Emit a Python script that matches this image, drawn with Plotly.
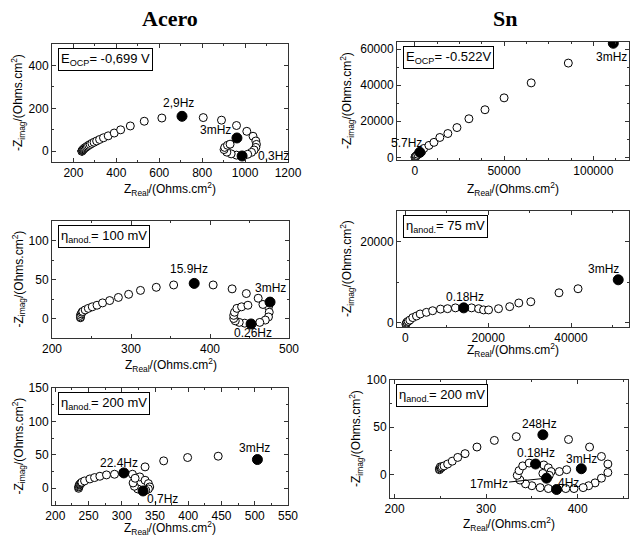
import plotly.graph_objects as go

W, H = 630, 536
FONT = "Arial, Liberation Sans, sans-serif"

# ---------------- data ----------------
# Panel 1: Acero, E_OCP
p1_x = [239, 240, 240, 241, 242, 243, 245, 248, 251, 255, 260, 265, 271, 278, 286, 296, 308, 322, 340, 362, 390, 420, 465, 530, 612,
        805, 890, 960, 1008, 1037, 1050, 1053, 1050, 1042, 1030, 1012,
        960, 935, 915, 902, 905, 918, 930]
p1_y = [0, 1, 2, 3, 4, 6, 8, 11, 14, 17, 20, 24, 28, 32, 37, 42, 48, 55, 63, 72, 85, 100, 118, 140, 155,
        157, 145, 120, 93, 70, 48, 32, 18, 6, -5, -14,
        -18, -12, -4, 8, 18, 28, 33]
p1_fx = [706, 962, 986]
p1_fy = [163, 62, -22]
p1_lab = ["2,9Hz", "3mHz", "0,3Hz"]

# Panel 2: Sn, E_OCP
p2_x = [100, 200, 300, 400, 700, 1000, 1700, 3900, 5000, 7900, 10700, 14000, 18500, 23600, 30300, 39300, 50000, 65200, 86000]
p2_y = [50, 150, 250, 350, 650, 1000, 1650, 3300, 4900, 6600, 8300, 11000, 13200, 16500, 21400, 26400, 33000, 41300, 52300]
p2_fx = [2800, 111200]
p2_fy = [2750, 63300]
p2_lab = ["5.7Hz", "3mHz"]

# Panel 3: Acero, 100 mV
p3_x = [236, 236, 236, 237, 238, 239, 242, 246, 251, 257, 264, 273, 284, 297, 312, 332, 354,
        404, 428, 446,
        474, 475, 474, 470, 463, 444, 437, 432, 430, 430, 431, 434, 440, 448, 461, 467]
p3_y = [1, 2, 4, 6, 8, 9, 11, 13, 15, 17, 20, 23, 27, 31, 36, 40, 43,
        43, 38, 32,
        15, 8, 2, -2, -5, -6, -5, -3, 0, 4, 8, 13, 15, 17, 26, 18]
p3_fx = [380, 476, 452]
p3_fy = [45, 21, -7]
p3_lab = ["15.9Hz", "3mHz", "0.26Hz"]

# Panel 4: Sn, 75 mV
p4_x = [150, 250, 400, 700, 1100, 1800, 2700, 3600, 5100, 6600, 8500, 10200, 12100,
        16000, 17700, 18900, 20100, 22500, 25200, 27400, 30300, 37100, 41700]
p4_y = [-300, -100, 200, 400, 700, 1300, 1700, 2200, 2600, 3000, 3400, 3500, 3700,
        3700, 3500, 3200, 3200, 3500, 4000, 4900, 5200, 7400, 8400]
p4_fx = [14100, 51400]
p4_fy = [3700, 10600]
p4_lab = ["0.18Hz", "3mHz"]

# Panel 5: Acero, 200 mV
p5_x = [235, 235, 236, 236, 237, 238, 239, 240, 244, 252, 259, 267, 277, 289,
        316, 327, 335, 340, 342, 340, 336, 324, 319, 317, 320, 335, 363, 399, 445]
p5_y = [0, 2, 3, 5, 6, 7, 8, 9, 11, 14, 16, 18, 20, 21,
        21, 17, 12, 7, 2, -1, -3, -1, 3, 8, 15, 32, 41, 46, 48]
p5_fx = [303, 504, 332]
p5_fy = [23, 43, -4]
p5_lab = ["22.4Hz", "3mHz", "0,7Hz"]

# Panel 6: Sn, 200 mV
p6_x = [249, 249, 250, 250, 251, 252, 254, 258, 263, 269, 277, 290, 309, 333,
        390, 413, 426, 433, 433, 426, 419, 412, 406, 396, 387,
        368, 359, 350, 343, 337, 334, 336, 340, 347,
        363, 368, 371, 369, 362, 380, 388]
p6_y = [5, 6, 7, 8, 7, 8, 9, 11, 14, 18, 22, 29, 36, 40,
        37, 29, 19, 11, 2, -4, -9, -12, -14, -15, -15,
        -15, -14, -12, -10, -6, -1, 4, 9, 12,
        10, 7, 3, -1, 1, 3, 5]
p6_fx = [362, 354, 404, 377, 366]
p6_fy = [42, 11, 6, -16, -4]
p6_lab = ["248Hz", "0.18Hz", "3mHz", "4Hz", "17mHz"]

# ---------------- layout geometry (pixels) ----------------
# (left, right, top, bottom)
boxes = [
    (52, 288, 44, 162),
    (397, 629, 42, 160),
    (52, 289, 221, 338),
    (397, 629, 211, 327),
    (52, 288, 388, 505),
    (390, 628, 380, 498),
]
xr = [[100, 1200], [-10000, 120000], [200, 500], [-2000, 54000], [195, 550], [195, 455]]
yr = [[-50, 500], [-1500, 64000], [-25, 125], [-1000, 27500], [-25, 150], [-25, 100]]
xt = [[200, 400, 600, 800, 1000, 1200], [0, 50000, 100000], [200, 300, 400, 500],
      [0, 20000, 40000], [200, 250, 300, 350, 400, 450, 500, 550], [200, 300, 400]]
yt = [[0, 200, 400], [0, 20000, 40000, 60000], [0, 50, 100], [0, 20000], [0, 50, 100, 150], [0, 50, 100]]
xminor = [100, 12500, 50, 10000, 25, 50]
yminor = [100, 10000, 25, 10000, 25, 25]

info = ["E<sub>OCP</sub>= -0,699 V", "E<sub>OCP</sub>= -0.522V",
        "η<sub>anod.</sub>= 100 mV", "η<sub>anod.</sub>= 75 mV",
        "η<sub>anod.</sub>= 200 mV", "η<sub>anod.</sub>= 200 mV"]

# label offsets (px) relative to labelled point
lab_off = [
    [(-4, 13), (-21, 8), (31, 0)],
    [(-13, 9), (-2, -14)],
    [(-5, 14), (0, 14), (2, -9)],
    [(1, 11), (-15, 11)],
    [(-5, 10), (-3, 12), (19, -8)],
    [(-3, 11), (0, 11), (0, 10), (12, 7), (0, 0)],
]

opens = [(p1_x, p1_y), (p2_x, p2_y), (p3_x, p3_y), (p4_x, p4_y), (p5_x, p5_y), (p6_x, p6_y)]
filled = [(p1_fx, p1_fy, p1_lab), (p2_fx, p2_fy, p2_lab), (p3_fx, p3_fy, p3_lab),
          (p4_fx, p4_fy, p4_lab), (p5_fx, p5_fy, p5_lab), (p6_fx, p6_fy, p6_lab)]

fig = go.Figure()
annotations = []
layout = {}

ytitle = "-Z<sub>imag</sub>/(Ohms.cm<sup>2</sup>)"
xtitle = "Z<sub>Real</sub>/(Ohms.cm<sup>2</sup>)"

xtitle_y = [189, 189, 365, 350, 528, 524]
ytitle_x = [18, 347, 18, 347, 18, 356]

for i in range(6):
    k = "" if i == 0 else str(i + 1)
    l, r, t, b = boxes[i]
    ox, oy = opens[i]
    fx, fy, labs = filled[i]
    fig.add_trace(go.Scatter(x=ox, y=oy, mode="markers", xaxis="x" + k, yaxis="y" + k,
                             marker=dict(symbol="circle", size=8, color="white",
                                         line=dict(color="black", width=1)),
                             showlegend=False, hoverinfo="skip"))
    fig.add_trace(go.Scatter(x=fx, y=fy, mode="markers", xaxis="x" + k, yaxis="y" + k,
                             marker=dict(symbol="circle", size=10, color="black",
                                         line=dict(color="black", width=1)),
                             showlegend=False, hoverinfo="skip"))
    axcommon = dict(showline=True, linecolor="#333", linewidth=1, mirror="ticks",
                    ticks="inside", ticklen=4, tickcolor="#333", showgrid=False, zeroline=False,
                    tickfont=dict(family=FONT, size=12, color="black"), tickformat="d")
    layout["xaxis" + k] = dict(domain=[l / W, r / W], range=xr[i], anchor="y" + k,
                               tickvals=xt[i], minor=dict(ticks="inside", ticklen=2, dtick=xminor[i],
                                                          tickcolor="#333"),
                               **axcommon)
    layout["yaxis" + k] = dict(domain=[1 - b / H, 1 - t / H], range=yr[i], anchor="x" + k,
                               tickvals=yt[i], minor=dict(ticks="inside", ticklen=2, dtick=yminor[i],
                                                          tickcolor="#333"),
                               **axcommon)
    # point labels
    for j, lab in enumerate(labs):
        dx, dy = lab_off[i][j]
        if lab == "17mHz":
            annotations.append(dict(x=fx[j], y=fy[j], xref="x" + k, yref="y" + k, text=lab,
                                    showarrow=True, arrowhead=0, arrowwidth=1, arrowcolor="black",
                                    ax=-58, ay=6, standoff=5, xanchor="center", yanchor="middle",
                                    font=dict(family=FONT, size=12, color="black")))
        else:
            annotations.append(dict(x=fx[j], y=fy[j], xref="x" + k, yref="y" + k, text=lab,
                                    showarrow=False, xshift=dx, yshift=dy,
                                    xanchor="center", yanchor="middle",
                                    font=dict(family=FONT, size=12, color="black")))
    # info box
    annotations.append(dict(x=(l + 6) / W, y=1 - (t + 4) / H, xref="paper", yref="paper",
                            xanchor="left", yanchor="top", text=info[i], showarrow=False,
                            bordercolor="black", borderwidth=1, borderpad=2, bgcolor="white",
                            font=dict(family=FONT, size=13, color="black")))
    # axis titles
    annotations.append(dict(x=(l + r) / 2 / W, y=1 - xtitle_y[i] / H, xref="paper", yref="paper",
                            text=xtitle, showarrow=False, xanchor="center", yanchor="middle",
                            font=dict(family=FONT, size=12, color="black")))
    annotations.append(dict(x=ytitle_x[i] / W, y=1 - (t + b) / 2 / H, xref="paper", yref="paper",
                            text=ytitle, showarrow=False, textangle=-90, xanchor="center", yanchor="middle",
                            font=dict(family=FONT, size=12, color="black")))

TFONT = dict(family="Liberation Serif, DejaVu Serif, serif", size=22, color="black")
annotations.append(dict(x=170 / W, y=1 - 18 / H, xref="paper", yref="paper", text="<b>Acero</b>",
                        showarrow=False, xanchor="center", yanchor="middle", font=TFONT))
annotations.append(dict(x=505 / W, y=1 - 18 / H, xref="paper", yref="paper", text="<b>Sn</b>",
                        showarrow=False, xanchor="center", yanchor="middle", font=TFONT))

fig.update_layout(width=W, height=H, margin=dict(l=0, r=0, t=0, b=0, autoexpand=False),
                  paper_bgcolor="white", plot_bgcolor="white",
                  annotations=annotations, **layout)
fig.write_html("out.html", config={"displayModeBar": False},
               post_script="document.body.style.margin='0px';")
